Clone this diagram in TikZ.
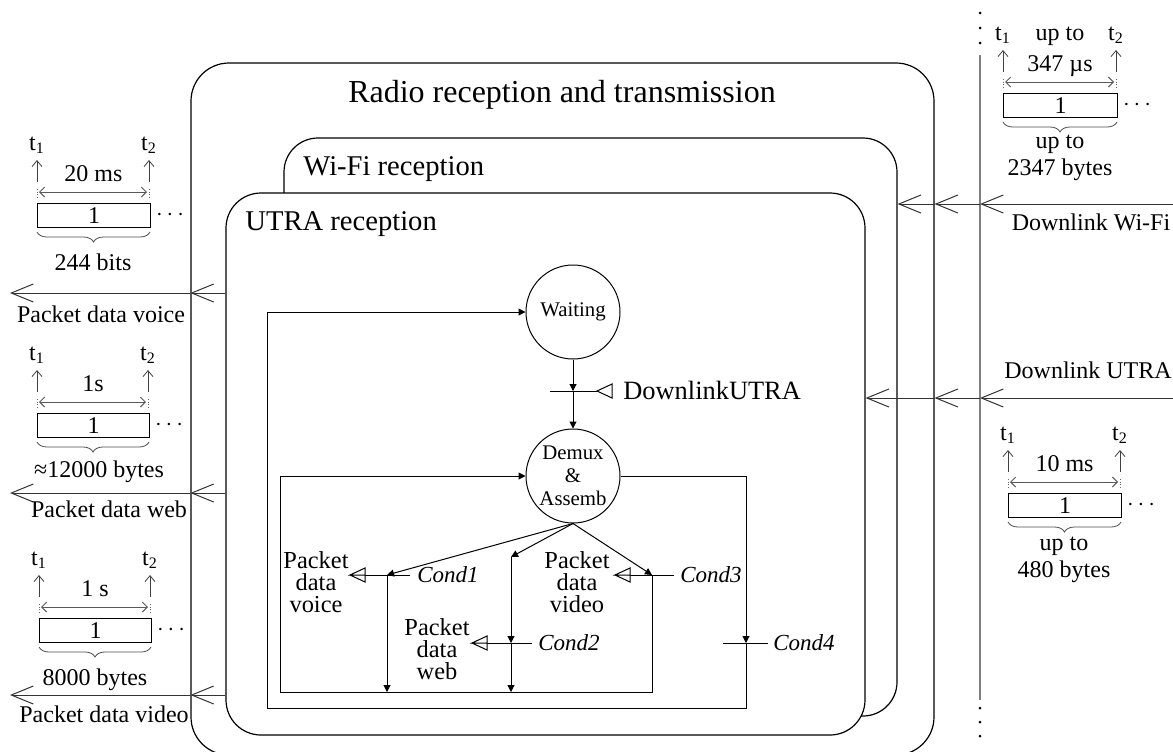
\documentclass[tikz,border=0pt]{standalone}
\usepackage{fontspec}
\setmainfont{Liberation Serif}
\usetikzlibrary{arrows.meta,decorations.pathreplacing}

\newcommand\timingdiag[5]{%
  \node[pktbox, minimum width=#4*0.5pt, anchor=north west] (#1-box) at (#2,#3) {1};
  \coordinate (#1-aLb) at ({#2},{#3-21});
  \coordinate (#1-aLt) at ({#2},{#3-43});
  \coordinate (#1-aRb) at ({#2+#4-1},{#3-21});
  \coordinate (#1-aRt) at ({#2+#4-1},{#3-43});
  \coordinate (#1-kLb) at ({#2},{#3-5});
  \coordinate (#1-kLt) at ({#2},{#3-16});
  \coordinate (#1-kRb) at ({#2+#4-1},{#3-5});
  \coordinate (#1-kRt) at ({#2+#4-1},{#3-16});
  \coordinate (#1-dL) at ({#2+2},{#3-11});
  \coordinate (#1-dR) at ({#2+#4-3},{#3-11});
  \coordinate (#1-bL) at ({#2},{#3+29});
  \coordinate (#1-bR) at ({#2+#4},{#3+29});
  \node[lbl, anchor=base] (#1-t1) at ({#2},{#3-53}) {t\textsubscript{1}};
  \node[lbl, anchor=base] (#1-t2) at ({#2+#4-1},{#3-53}) {t\textsubscript{2}};
  \node[lbl, anchor=base] (#1-mid) at ({#2+#4/2},{#3-21.5}) {#5};
  \node[lbl] (#1-dots) at ({#2+#4+20},{#3+12}) {$\cdots$};
  \draw[tarrow] (#1-aLb) -- (#1-aLt);
  \draw[tarrow] (#1-aRb) -- (#1-aRt);
  \draw[tick] (#1-kLb) -- (#1-kLt);
  \draw[tick] (#1-kRb) -- (#1-kRt);
  \draw[dbl] (#1-dL) -- (#1-dR);
  \draw[brc] (#1-bL) -- (#1-bR);
}

\begin{document}
\begin{tikzpicture}[x=0.5pt,y=-0.5pt,
  rbox/.style={draw, line width=0.6pt, rounded corners=#1, inner sep=0pt, fill=white},
  chan/.style={line width=0.5pt, draw=black!80, -{Straight Barb[length=11pt,width=9pt,line width=0.5pt]}},
  sm/.style={line width=0.5pt, -{Triangle[length=3.5pt,width=3.5pt]}},
  plain/.style={line width=0.5pt},
  lbl/.style={inner sep=0pt, font=\fontsize{12}{14}\selectfont},
  cond/.style={inner sep=0pt, anchor=west, font=\fontsize{11.5}{13}\selectfont\itshape},
  pkt/.style={inner sep=0pt, align=center, font=\fontsize{12.2}{10.9}\selectfont},
  state/.style={draw, circle, line width=0.5pt, minimum size=47pt, inner sep=0pt, align=center, font=\fontsize{10.4}{11.5}\selectfont},
  pktbox/.style={draw, line width=0.6pt, minimum height=12pt, inner sep=0pt, font=\fontsize{12}{14}\selectfont},
  tarrow/.style={line width=0.4pt, draw=black!75, -{Straight Barb[length=3pt,width=5pt]}},
  dbl/.style={line width=0.5pt, draw=black!65, {Straight Barb[length=2.5pt,width=5pt]}-{Straight Barb[length=2.5pt,width=5pt]}},
  tick/.style={line width=0.4pt, draw=black!60, densely dotted},
  brc/.style={line width=0.4pt, draw=black!70, decorate, decoration={brace, mirror, amplitude=5pt}},
  sig/.style={line width=0.5pt, draw, fill=white},
  title/.style={inner sep=0pt, font=\fontsize{16}{18}\selectfont},
  subtitle/.style={inner sep=0pt, anchor=base west, font=\fontsize{14.3}{16}\selectfont},
]
\useasboundingbox (0,0) rectangle (1173,751);

% containers
\node[rbox=19pt, minimum width=371.5pt, minimum height=346pt] (outer) at (562.5,409) {};
\node[rbox=17pt, minimum width=306.5pt, minimum height=289pt] (wifi) at (590.5,427) {};
\node[rbox=17.5pt, minimum width=319.5pt, minimum height=271pt] (utra) at (545.5,464) {};
\node[title, anchor=base] (ttl) at (562,102) {Radio reception and transmission};
\node[subtitle] (wttl) at (303,175) {Wi-Fi reception};
\node[subtitle] (uttl) at (245,230) {UTRA reception};

% time line on the right
\coordinate (gtop) at (980,55);
\coordinate (gbot) at (980,700);
\draw[line width=0.7pt, draw=black!50] (gtop) -- (gbot);
\foreach \yy in {13,28,43,708,722,736} \fill (980,\yy) circle[radius=0.75pt];

% incoming channels
\coordinate (dwf) at (1173,204);
\coordinate (dut) at (1173,398);
\draw[chan] (dwf) -- (gtop |- dwf);
\draw[chan] (gtop |- dwf) -- (outer.east |- dwf);
\draw[chan] (outer.east |- dwf) -- (wifi.east |- dwf);
\draw[chan] (dut) -- (gtop |- dut);
\draw[chan] (gtop |- dut) -- (outer.east |- dut);
\draw[chan] (outer.east |- dut) -- (utra.east |- dut);
\node[lbl, anchor=base] (ldwf) at (1091,230) {Downlink Wi-Fi};
\node[lbl, anchor=base] (ldut) at (1088,378) {Downlink UTRA};

% outgoing channels
\coordinate (pv) at (10,293);
\coordinate (pw) at (10,493);
\coordinate (px) at (10,695);
\foreach \c in {pv,pw,px}{
  \draw[chan] (utra.west |- \c) -- (outer.west |- \c);
  \draw[chan] (outer.west |- \c) -- (\c);
}
\node[lbl, anchor=base] (lpv) at (101,322) {Packet data voice};
\node[lbl, anchor=base] (lpw) at (109,517) {Packet data web};
\node[lbl, anchor=base] (lpx) at (104,722) {Packet data video};

% timing diagrams
\timingdiag{tv}{37}{203}{113}{20 ms}
\timingdiag{tw}{37}{413}{112}{1s}
\timingdiag{tx}{39}{618}{112}{1 s}
\timingdiag{tf}{1003}{93}{114}{347 µs}
\timingdiag{tu}{1008}{493}{113}{10 ms}
\node[lbl, anchor=base] (tv-bot) at (93,270) {244 bits};
\node[lbl, anchor=base] (tw-bot) at (99,477) {≈12000 bytes};
\node[lbl, anchor=base] (tx-bot) at (95,685) {8000 bytes};
\node[lbl, anchor=base] (tf-top) at (1060,40) {up to};
\node[lbl, anchor=base] (tf-bot1) at (1060,148) {up to};
\node[lbl, anchor=base] (tf-bot2) at (1060,175) {2347 bytes};
\node[lbl, anchor=base] (tu-bot1) at (1064,550) {up to};
\node[lbl, anchor=base] (tu-bot2) at (1064,577) {480 bytes};

% state machine
\node[state] (wait) at (573,312) {Waiting};
\node[state] (demux) at (573,476) {Demux\\\&\\Assemb};

% DownlinkUTRA input
\coordinate (dlbar) at (573,391);
\coordinate (dlL) at (550,391);
\coordinate (dlR) at (597,391);
\draw[plain] (dlL) -- (dlR);
\draw[sig] (dlR) -- ++(15,-7) -- ++(0,14) -- cycle;
\node[inner sep=0pt, anchor=west, font=\fontsize{13.2}{15}\selectfont] (ldl) at (623,390) {DownlinkUTRA};
\draw[sm] (wait) -- (dlbar);
\draw[sm] (dlbar) -- (demux);

% inner loop geometry
\coordinate (ibl) at (280,692);
\coordinate (obl) at (267,708);

% Cond1
\coordinate (c1) at (387,575);
\coordinate (c1L) at (365,575);
\coordinate (c1R) at (410,575);
\draw[plain] (c1L) -- (c1R);
\draw[sig] (c1L) -- ++(-15,0) -- ++(15,-7) -- ++(0,14) -- ++(-15,-7);
\draw[sm] (demux.south) -- (c1);
\draw[sm] (c1) -- (c1 |- ibl);
\node[cond] (lc1) at (417,575) {Cond1};
\node[pkt] (pkv) at (316,582) {Packet\\data\\voice};

% Cond2
\coordinate (c2top) at (511,557);
\coordinate (c2) at (511,643);
\coordinate (c2L) at (487,643);
\coordinate (c2R) at (532,643);
\draw[plain] (c2L) -- (c2R);
\draw[sig] (c2L) -- ++(-15,0) -- ++(15,-7) -- ++(0,14) -- ++(-15,-7);
\draw[sm] (demux.south) -- (c2top);
\draw[sm] (c2top) -- (c2);
\draw[sm] (c2) -- (c2 |- ibl);
\node[cond] (lc2) at (538,643) {Cond2};
\node[pkt] (pkw) at (437,649) {Packet\\data\\web};

% Cond3
\coordinate (c3) at (652,575);
\coordinate (c3L) at (630,575);
\coordinate (c3R) at (674,575);
\draw[plain] (c3L) -- (c3R);
\draw[sig] (c3L) -- ++(-15,0) -- ++(15,-7) -- ++(0,14) -- ++(-15,-7);
\draw[sm] (demux.south) -- (c3);
\node[cond] (lc3) at (680,575) {Cond3};
\node[pkt] (pkx) at (577,582) {Packet\\data\\video};
\draw[sm] (c3) -- (c3 |- ibl) -- (ibl) |- (demux.west);

% Cond4 and loop back to Waiting
\coordinate (c4) at (746,643);
\coordinate (c4L) at (723,643);
\coordinate (c4R) at (768,643);
\draw[plain] (c4L) -- (c4R);
\node[cond] (lc4) at (773,643) {Cond4};
\draw[sm] (demux.east) -| (c4);
\draw[sm] (c4) -- (c4 |- obl) -- (obl) |- (wait.west);
\end{tikzpicture}
\end{document}
